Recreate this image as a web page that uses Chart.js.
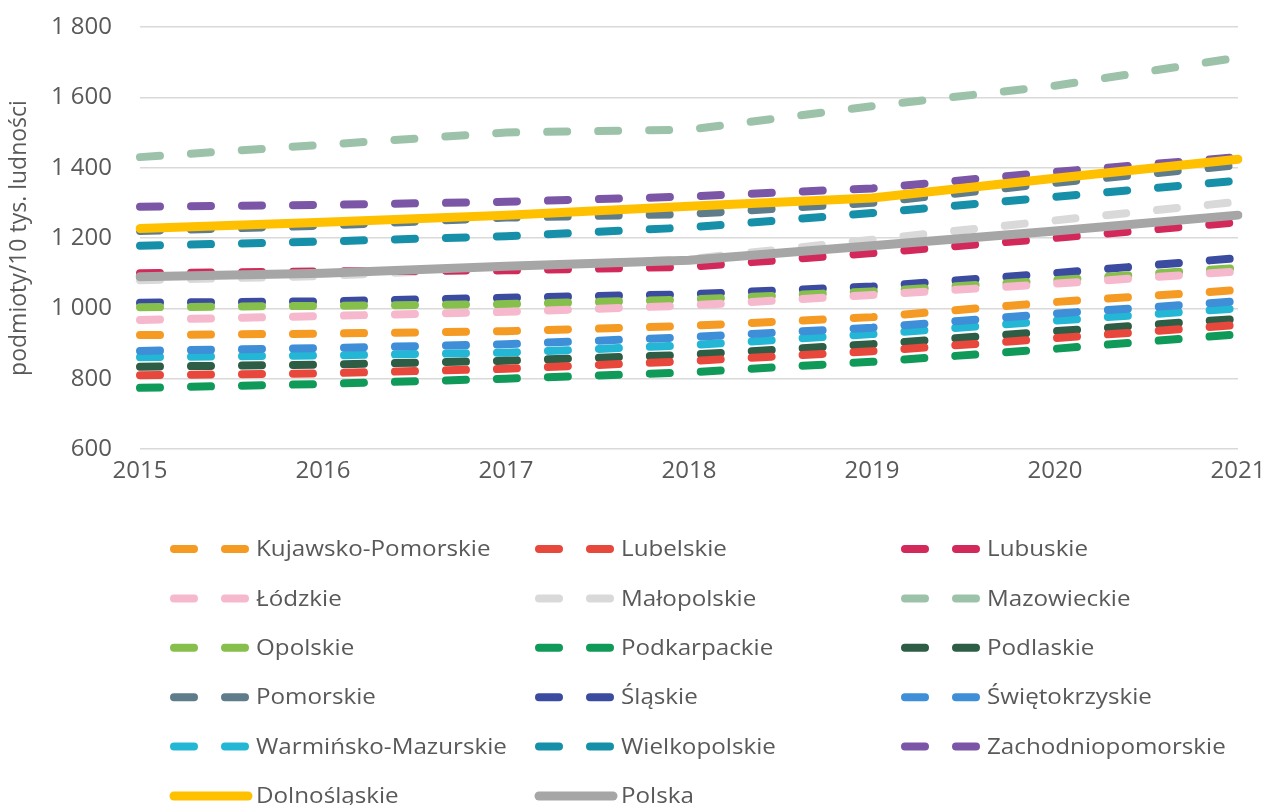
<!DOCTYPE html>
<html>
<head>
<meta charset="utf-8">
<script src="https://cdn.jsdelivr.net/npm/chart.js@4.4.1/dist/chart.umd.min.js"></script>
<style>
  html, body { margin: 0; padding: 0; background: #fff; }
</style>
</head>
<body>
<canvas id="chart" width="1266" height="805"></canvas>
<script>
// --- DANE ---
const years = ['2015', '2016', '2017', '2018', '2019', '2020', '2021'];

const kujawskoPomorskie   = [924, 928, 935, 950, 975, 1018, 1052];
const lubelskie           = [810, 815, 828, 850, 878, 915, 953];
const lubuskie            = [1100, 1105, 1108, 1118, 1157, 1200, 1245];
const lodzkie             = [967, 978, 990, 1008, 1038, 1070, 1105];
const malopolskie         = [1080, 1092, 1115, 1140, 1195, 1250, 1303];
const mazowieckie         = [1430, 1465, 1500, 1508, 1575, 1633, 1713];
const opolskie            = [1003, 1007, 1012, 1025, 1048, 1080, 1115];
const podkarpackie        = [774, 785, 800, 818, 848, 885, 926];
const podlaskie           = [834, 840, 851, 868, 898, 935, 970];
const pomorskie           = [1220, 1235, 1258, 1268, 1300, 1357, 1407];
const slaskie             = [1016, 1020, 1030, 1040, 1062, 1100, 1143];
const swietokrzyskie      = [879, 887, 898, 918, 945, 985, 1020];
const warminskoMazurskie  = [861, 866, 874, 895, 927, 965, 1000];
const wielkopolskie       = [1178, 1190, 1205, 1230, 1271, 1317, 1363];
const zachodniopomorskie  = [1289, 1294, 1303, 1318, 1341, 1388, 1430];
const dolnoslaskie        = [1227, 1245, 1265, 1290, 1314, 1370, 1424];
const polska              = [1090, 1100, 1120, 1137, 1178, 1220, 1265];

// --- KOLORY ---
const textColor = '#595959';
const gridColor = '#d9d9d9';

function dashed(label, data, color) {
    return {
        label: label, data: data,
        borderColor: color, backgroundColor: color,
        borderWidth: 8, borderDash: [20, 31], borderCapStyle: 'round',
        pointRadius: 0, tension: 0, fill: false, order: 1
    };
}
function solid(label, data, color) {
    return {
        label: label, data: data,
        borderColor: color, backgroundColor: color,
        borderWidth: 9, borderCapStyle: 'round',
        pointRadius: 0, tension: 0, fill: false, order: 0
    };
}

const datasets = [
    dashed('Kujawsko-Pomorskie', kujawskoPomorskie, '#f59a23'),
    dashed('Lubelskie', lubelskie, '#e8473b'),
    dashed('Lubuskie', lubuskie, '#d2285a'),
    dashed('Łódzkie', lodzkie, '#f5b8cd'),
    dashed('Małopolskie', malopolskie, '#d9d9d9'),
    dashed('Mazowieckie', mazowieckie, '#9cc3a9'),
    dashed('Opolskie', opolskie, '#86bf4c'),
    dashed('Podkarpackie', podkarpackie, '#109a5a'),
    dashed('Podlaskie', podlaskie, '#2e5d46'),
    dashed('Pomorskie', pomorskie, '#5f7c8b'),
    dashed('Śląskie', slaskie, '#3b4ca0'),
    dashed('Świętokrzyskie', swietokrzyskie, '#3f8fd8'),
    dashed('Warmińsko-Mazurskie', warminskoMazurskie, '#24b7d5'),
    dashed('Wielkopolskie', wielkopolskie, '#1690a8'),
    dashed('Zachodniopomorskie', zachodniopomorskie, '#7b56a7'),
    solid('Dolnośląskie', dolnoslaskie, '#ffc000'),
    solid('Polska', polska, '#a6a6a6')
];

// --- LEGENDA W TRZECH KOLUMNACH ---
const legendColX = [170, 535, 901];
const legendTop = 549;
const legendRowGap = 49.4;

const gridLegend = {
    id: 'gridLegend',
    afterDraw(chart) {
        const ctx = chart.ctx;
        chart.data.datasets.forEach((ds, i) => {
            const x = legendColX[i % 3];
            const y = legendTop + Math.floor(i / 3) * legendRowGap;
            ctx.save();
            ctx.strokeStyle = ds.borderColor;
            ctx.lineWidth = ds.borderWidth;
            ctx.lineCap = 'round';
            ctx.setLineDash(ds.borderDash || []);
            ctx.beginPath();
            ctx.moveTo(x + 4, y);
            ctx.lineTo(x + 78, y);
            ctx.stroke();
            ctx.setLineDash([]);
            ctx.fillStyle = textColor;
            ctx.font = '22px "Open Sans"';
            ctx.textBaseline = 'middle';
            ctx.translate(x + 86, y + 1);
            ctx.scale(1.1, 1);
            ctx.fillText(ds.label, 0, 0);
            ctx.restore();
        });
    }
};

function formatThousands(v) {
    if (v >= 1000) return Math.floor(v / 1000) + ' ' + String(v % 1000).padStart(3, '0');
    return String(v);
}

new Chart(document.getElementById('chart'), {
    type: 'line',
    data: { labels: years, datasets: datasets },
    options: {
        responsive: false,
        animation: false,
        layout: { padding: { top: 27, right: 28, bottom: 316, left: 2 } },
        plugins: { legend: { display: false }, tooltip: { enabled: false } },
        scales: {
            x: {
                offset: false,
                grid: { display: false },
                border: { display: false },
                ticks: { color: textColor, font: { family: 'Open Sans', size: 24 }, padding: 0, maxRotation: 0 },
                afterFit: s => { s.height = 40; }
            },
            y: {
                min: 600, max: 1800,
                grid: { color: gridColor, lineWidth: 1.5, drawTicks: false },
                border: { display: false },
                ticks: { stepSize: 200, color: textColor, font: { family: 'Open Sans', size: 24 }, padding: 28, callback: formatThousands },
                title: { display: true, text: 'podmioty/10 tys. ludności', color: textColor, font: { family: 'Open Sans', size: 23 }, padding: { top: 4, bottom: 0 } },
                afterFit: s => { s.width = 138; s.paddingTop = 0; s.paddingBottom = 0; }
            }
        }
    },
    plugins: [gridLegend]
});
</script>
</body>
</html>
